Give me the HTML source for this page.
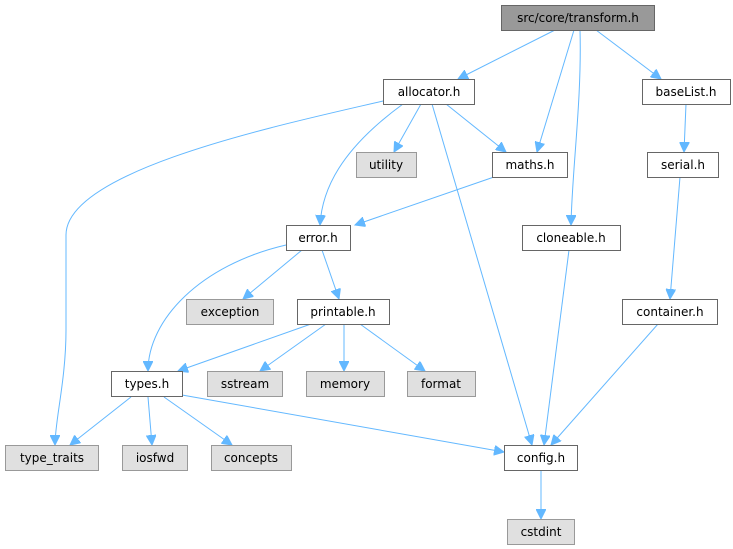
<!DOCTYPE html>
<html><head><meta charset="utf-8"><style>
body{margin:0;background:#fff;width:733px;height:549px;overflow:hidden}
svg{display:block}
text{font-family:"DejaVu Sans","Liberation Sans",sans-serif;font-size:12px;text-anchor:middle}
.w{fill:#fff;stroke:#666;stroke-width:1}
.g{fill:#e0e0e0;stroke:#999;stroke-width:1}
.m{fill:#999;stroke:#666;stroke-width:1}
.e{fill:none;stroke:#63b8ff;stroke-width:1;marker-end:url(#a)}
</style></head><body>
<svg width="733" height="549" viewBox="0 0 733 549">
<defs><marker id="a" markerWidth="11" markerHeight="10" refX="10" refY="5" orient="auto" markerUnits="userSpaceOnUse"><path d="M0,0 L10,5 L0,10 z" fill="#63b8ff" stroke="#63b8ff"/></marker></defs>
<path class="e" d="M555,30 L458,79"/>
<path class="e" d="M574,30 L537,152"/>
<path class="e" d="M580,30 C582,100 572,170 571,225"/>
<path class="e" d="M596,30 L661,79"/>
<path class="e" d="M383,101 C280,125 66,170 66,235 L66,330 C66,380 55,420 55,445"/>
<path class="e" d="M421,104 L394,152"/>
<path class="e" d="M403,104 C340,150 322,190 320,225"/>
<path class="e" d="M446,104 L506,152"/>
<path class="e" d="M432,104 L532,445"/>
<path class="e" d="M686,104 L684,152"/>
<path class="e" d="M494,177 L355,225"/>
<path class="e" d="M286,245 C200,265 148,320 148,371"/>
<path class="e" d="M302,250 L243,299"/>
<path class="e" d="M322,250 L339,299"/>
<path class="e" d="M569,250 L544,445"/>
<path class="e" d="M680,177 L670,299"/>
<path class="e" d="M658,324 L551,445"/>
<path class="e" d="M311,324 L178,371"/>
<path class="e" d="M326,324 L260,371"/>
<path class="e" d="M344,324 L344,371"/>
<path class="e" d="M360,324 L425,371"/>
<path class="e" d="M131,397 L70,445"/>
<path class="e" d="M148,397 L152,445"/>
<path class="e" d="M164,397 L232,445"/>
<path class="e" d="M182,395 L504,452"/>
<path class="e" d="M541,470 L541,519"/>

<rect class="m" x="501.5" y="5.5" width="153" height="25"/><text x="578" y="22">src/core/transform.h</text>
<rect class="w" x="383.5" y="79.5" width="91" height="25"/><text x="429" y="96">allocator.h</text>
<rect class="w" x="642.5" y="79.5" width="88" height="25"/><text x="686" y="96">baseList.h</text>
<rect class="g" x="356.5" y="152.5" width="60" height="25"/><text x="386" y="169">utility</text>
<rect class="w" x="492.5" y="152.5" width="75" height="25"/><text x="530" y="169">maths.h</text>
<rect class="w" x="647.5" y="152.5" width="71" height="25"/><text x="683" y="169">serial.h</text>
<rect class="w" x="286.5" y="225.5" width="64" height="25"/><text x="318" y="242">error.h</text>
<rect class="w" x="522.5" y="225.5" width="98" height="25"/><text x="571" y="242">cloneable.h</text>
<rect class="g" x="186.5" y="299.5" width="87" height="25"/><text x="230" y="316">exception</text>
<rect class="w" x="297.5" y="299.5" width="92" height="25"/><text x="343" y="316">printable.h</text>
<rect class="w" x="622.5" y="299.5" width="95" height="25"/><text x="670" y="316">container.h</text>
<rect class="w" x="111.5" y="371.5" width="71" height="25"/><text x="147" y="388">types.h</text>
<rect class="g" x="207.5" y="371.5" width="75" height="25"/><text x="245" y="388">sstream</text>
<rect class="g" x="306.5" y="371.5" width="78" height="25"/><text x="345" y="388">memory</text>
<rect class="g" x="407.5" y="371.5" width="68" height="25"/><text x="441" y="388">format</text>
<rect class="g" x="5.5" y="445.5" width="93" height="25"/><text x="52" y="462">type_traits</text>
<rect class="g" x="122.5" y="445.5" width="65" height="25"/><text x="155" y="462">iosfwd</text>
<rect class="g" x="211.5" y="445.5" width="80" height="25"/><text x="251" y="462">concepts</text>
<rect class="w" x="504.5" y="445.5" width="73" height="25"/><text x="541" y="462">config.h</text>
<rect class="g" x="507.5" y="519.5" width="67" height="25"/><text x="541" y="536">cstdint</text>
</svg>
</body></html>
